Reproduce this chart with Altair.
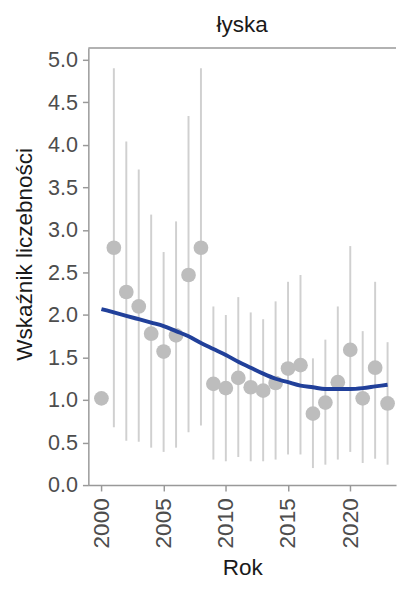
import altair as alt
import pandas as pd

years = list(range(2000, 2024))
index_vals = [1.02, 2.79, 2.27, 2.10, 1.78, 1.57, 1.76, 2.47, 2.79, 1.19, 1.14, 1.26,
              1.15, 1.11, 1.20, 1.37, 1.41, 0.84, 0.97, 1.21, 1.59, 1.02, 1.38, 0.96]
upper = [None, 4.90, 4.04, 3.71, 3.18, 2.74, 3.10, 4.34, 4.90, 2.10, 2.00, 2.21,
         2.03, 1.95, 2.16, 2.39, 2.47, 1.49, 1.71, 2.10, 2.81, 1.81, 2.39, 1.68]
lower = [None, 0.68, 0.52, 0.51, 0.44, 0.39, 0.44, 0.62, 0.70, 0.30, 0.28, 0.33,
         0.28, 0.28, 0.30, 0.36, 0.36, 0.20, 0.24, 0.30, 0.39, 0.26, 0.31, 0.24]
smooth = [2.07, 2.03, 1.99, 1.95, 1.91, 1.87, 1.81, 1.75, 1.67, 1.60, 1.53, 1.45,
          1.38, 1.31, 1.25, 1.21, 1.17, 1.15, 1.13, 1.13, 1.13, 1.14, 1.16, 1.18]
y_ticks = [0.0, 0.5, 1.0, 1.5, 2.0, 2.5, 3.0, 3.5, 4.0, 4.5, 5.0]
x_ticks = [2000, 2005, 2010, 2015, 2020]

df = pd.DataFrame({"rok": years, "wsk": index_vals, "lo": lower, "hi": upper, "sm": smooth})
df_err = df.dropna()

W, H = 314, 446
FONT = "Liberation Sans"
xs = alt.Scale(domain=[1998.95, 2023.68], nice=False, zero=False)
ys = alt.Scale(domain=[0, 5.138], nice=False, zero=False)

x_axis = alt.Axis(values=x_ticks, labelAngle=270, labelAlign="right", labelBaseline="middle",
                  labelFontSize=23, labelColor="#4d4d4d", labelFont=FONT,
                  tickColor="#999999", tickSize=6, tickWidth=1.5,
                  domainColor="#999999", domainWidth=1.5, grid=False,
                  title="Rok", titleFontSize=23, titleFont=FONT,
                  titleFontWeight="normal", titleColor="#1a1a1a", titlePadding=9,
                  labelPadding=7, format="d")
y_axis = alt.Axis(values=y_ticks, format=".1f", labelFontSize=22, labelColor="#4d4d4d",
                  labelFont=FONT, tickColor="#999999", tickSize=6, tickWidth=1.5,
                  domainColor="#999999", domainWidth=1.5, grid=False,
                  title="Wskaźnik liczebności", titleFontSize=23, titleFont=FONT,
                  titleFontWeight="normal", titleColor="#1a1a1a",
                  titleX=-58, titleY=210, titleAlign="center", titleBaseline="alphabetic",
                  titleAngle=270, labelPadding=5)

base = alt.Chart(df)

err = alt.Chart(df_err).mark_rule(color="#d0d0d0", strokeWidth=2).encode(
    x=alt.X("rok:Q", scale=xs, axis=x_axis),
    y=alt.Y("lo:Q", scale=ys, axis=y_axis),
    y2="hi:Q",
)
pts = base.mark_circle(color="#bdbdbd", opacity=1, size=225).encode(
    x=alt.X("rok:Q", scale=xs),
    y=alt.Y("wsk:Q", scale=ys),
)
line = base.mark_line(color="#21409a", strokeWidth=4, interpolate="monotone").encode(
    x=alt.X("rok:Q", scale=xs),
    y=alt.Y("sm:Q", scale=ys),
)
top = alt.Chart(pd.DataFrame({"a": [0]})).mark_rule(color="#999999", strokeWidth=1.5).encode(
    x=alt.value(0), x2=alt.value(W), y=alt.value(0)
)

chart = alt.layer(err, pts, line, top).properties(
    width=W, height=H,
    title=alt.TitleParams("łyska", fontSize=23, font=FONT, fontWeight="normal",
                          color="#1a1a1a", anchor="middle", offset=11),
    autosize=alt.AutoSizeParams(type="none"),
    padding={"left": 82, "top": 35, "right": 2, "bottom": 92},
).configure_view(stroke=None)

chart.save("out.html", embed_options={"renderer": "svg", "actions": False})
